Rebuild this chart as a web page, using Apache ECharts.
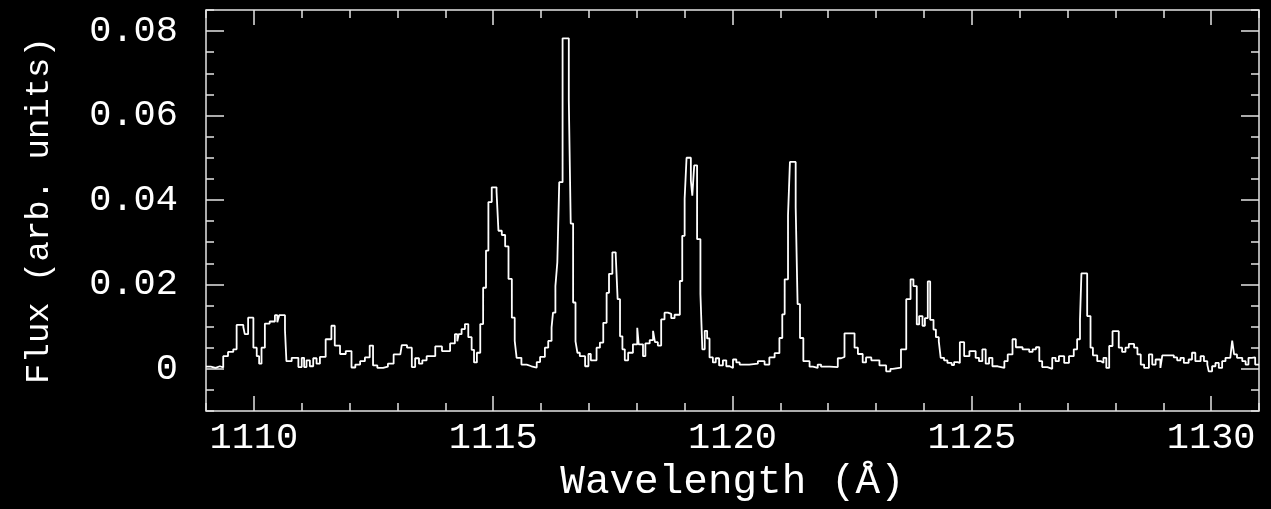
<!DOCTYPE html>
<html>
<head>
<meta charset="utf-8">
<title>Flux spectrum</title>
<script src="https://cdn.jsdelivr.net/npm/echarts@6/dist/echarts.min.js"></script>
<style>
  html, body { margin: 0; padding: 0; background: #000; }
  #chart { width: 1271px; height: 509px; }
</style>
</head>
<body>
<div id="chart"></div>
<script>
// bin left edges (Angstrom) and flux held over each bin
const wave = [
  1109.00, 1109.10, 1109.20, 1109.29, 1109.36, 1109.46, 1109.57, 1109.64, 1109.78, 1109.81,
  1109.88, 1109.99, 1110.06, 1110.11, 1110.16, 1110.23, 1110.33, 1110.44, 1110.49, 1110.53,
  1110.65, 1110.68, 1110.79, 1110.93, 1111.00, 1111.05, 1111.10, 1111.17, 1111.24, 1111.31,
  1111.38, 1111.50, 1111.62, 1111.69, 1111.80, 1111.92, 1112.04, 1112.12, 1112.22, 1112.32,
  1112.42, 1112.49, 1112.58, 1112.70, 1112.80, 1112.92, 1113.06, 1113.09, 1113.20, 1113.30,
  1113.37, 1113.45, 1113.52, 1113.61, 1113.79, 1113.93, 1114.10, 1114.20, 1114.25, 1114.28,
  1114.34, 1114.41, 1114.48, 1114.55, 1114.60, 1114.66, 1114.73, 1114.79, 1114.85, 1114.90,
  1114.97, 1115.07, 1115.11, 1115.18, 1115.25, 1115.32, 1115.39, 1115.45, 1115.49, 1115.59,
  1115.70, 1115.80, 1115.91, 1115.98, 1116.08, 1116.15, 1116.22, 1116.25, 1116.30, 1116.34,
  1116.38, 1116.45, 1116.58, 1116.62, 1116.67, 1116.72, 1116.76, 1116.81, 1116.92, 1116.99,
  1117.04, 1117.16, 1117.23, 1117.30, 1117.37, 1117.42, 1117.49, 1117.56, 1117.60, 1117.65,
  1117.70, 1117.75, 1117.82, 1117.92, 1118.01, 1118.04, 1118.13, 1118.18, 1118.27, 1118.34,
  1118.38, 1118.44, 1118.51, 1118.58, 1118.65, 1118.72, 1118.79, 1118.90, 1118.95, 1119.00,
  1119.04, 1119.13, 1119.16, 1119.20, 1119.26, 1119.33, 1119.37, 1119.42, 1119.47, 1119.52,
  1119.59, 1119.65, 1119.72, 1119.80, 1119.87, 1119.94, 1120.01, 1120.08, 1120.15, 1120.35,
  1120.53, 1120.67, 1120.77, 1120.88, 1120.98, 1121.04, 1121.09, 1121.16, 1121.20, 1121.32,
  1121.36, 1121.41, 1121.48, 1121.61, 1121.68, 1121.78, 1121.85, 1122.03, 1122.20, 1122.27,
  1122.34, 1122.55, 1122.62, 1122.72, 1122.79, 1122.90, 1123.07, 1123.21, 1123.30, 1123.35,
  1123.52, 1123.63, 1123.72, 1123.78, 1123.85, 1123.90, 1123.97, 1124.02, 1124.08, 1124.13,
  1124.20, 1124.25, 1124.31, 1124.35, 1124.42, 1124.49, 1124.58, 1124.63, 1124.70, 1124.75,
  1124.84, 1124.95, 1125.08, 1125.15, 1125.22, 1125.29, 1125.36, 1125.43, 1125.54, 1125.68,
  1125.75, 1125.85, 1125.92, 1126.06, 1126.20, 1126.27, 1126.34, 1126.41, 1126.47, 1126.58,
  1126.68, 1126.75, 1126.82, 1126.93, 1127.03, 1127.13, 1127.20, 1127.26, 1127.29, 1127.41,
  1127.48, 1127.53, 1127.62, 1127.70, 1127.75, 1127.81, 1127.87, 1127.94, 1128.07, 1128.14,
  1128.21, 1128.28, 1128.39, 1128.46, 1128.53, 1128.60, 1128.70, 1128.77, 1128.84, 1128.94,
  1128.98, 1129.22, 1129.29, 1129.36, 1129.43, 1129.53, 1129.60, 1129.67, 1129.78, 1129.85,
  1129.92, 1129.95, 1130.02, 1130.09, 1130.16, 1130.23, 1130.30, 1130.40, 1130.44, 1130.48,
  1130.54, 1130.65, 1130.72, 1130.78, 1130.85, 1130.92, 1131.00
];

const flux = [
  0.0005, 0.0002, 0.0006, 0.0003, 0.0030, 0.0040, 0.0046, 0.0104, 0.0099, 0.0082,
  0.0121, 0.0050, 0.0030, 0.0012, 0.0050, 0.0107, 0.0112, 0.0127, 0.0110, 0.0127,
  0.0092, 0.0018, 0.0026, 0.0004, 0.0026, 0.0004, 0.0020, 0.0006, 0.0025, 0.0012,
  0.0028, 0.0070, 0.0102, 0.0055, 0.0035, 0.0042, 0.0003, 0.0010, 0.0018, 0.0027,
  0.0055, 0.0008, 0.0002, 0.0005, 0.0012, 0.0034, 0.0038, 0.0056, 0.0050, 0.0004,
  0.0025, 0.0012, 0.0020, 0.0030, 0.0053, 0.0042, 0.0060, 0.0082, 0.0065, 0.0082,
  0.0094, 0.0106, 0.0075, 0.0045, 0.0015, 0.0038, 0.0106, 0.0192, 0.0280, 0.0395,
  0.0430, 0.0420, 0.0327, 0.0317, 0.0290, 0.0213, 0.0121, 0.0066, 0.0026, 0.0010,
  0.0006, 0.0003, 0.0016, 0.0028, 0.0050, 0.0066, 0.0098, 0.0133, 0.0196, 0.0252,
  0.0442, 0.0783, 0.0637, 0.0344, 0.0157, 0.0065, 0.0038, 0.0030, 0.0006, 0.0035,
  0.0020, 0.0050, 0.0062, 0.0109, 0.0180, 0.0225, 0.0276, 0.0270, 0.0165, 0.0077,
  0.0046, 0.0020, 0.0038, 0.0058, 0.0097, 0.0058, 0.0030, 0.0060, 0.0068, 0.0090,
  0.0063, 0.0055, 0.0117, 0.0133, 0.0130, 0.0120, 0.0128, 0.0208, 0.0315, 0.0403,
  0.0500, 0.0446, 0.0410, 0.0482, 0.0307, 0.0177, 0.0046, 0.0090, 0.0072, 0.0027,
  0.0015, 0.0025, 0.0008, 0.0020, 0.0006, 0.0002, 0.0022, 0.0015, 0.0010, 0.0012,
  0.0018, 0.0010, 0.0027, 0.0037, 0.0073, 0.0129, 0.0212, 0.0363, 0.0490, 0.0383,
  0.0153, 0.0073, 0.0018, 0.0005, 0.0002, 0.0010, 0.0005, 0.0004, 0.0025, 0.0028,
  0.0084, 0.0050, 0.0035, 0.0015, 0.0027, 0.0020, 0.0008, -0.0006, 0.0000, 0.0003,
  0.0046, 0.0165, 0.0212, 0.0196, 0.0105, 0.0125, 0.0102, 0.0120, 0.0207, 0.0116,
  0.0093, 0.0075, 0.0065, 0.0026, 0.0020, 0.0014, 0.0009, 0.0016, 0.0014, 0.0063,
  0.0030, 0.0042, 0.0026, 0.0018, 0.0046, 0.0012, 0.0026, 0.0006, 0.0002, 0.0018,
  0.0034, 0.0070, 0.0051, 0.0046, 0.0040, 0.0046, 0.0051, 0.0018, 0.0004, 0.0000,
  0.0026, 0.0018, 0.0030, 0.0014, 0.0030, 0.0046, 0.0070, 0.0117, 0.0226, 0.0125,
  0.0050, 0.0032, 0.0018, 0.0014, 0.0026, 0.0002, 0.0054, 0.0089, 0.0050, 0.0040,
  0.0050, 0.0059, 0.0050, 0.0034, 0.0010, 0.0002, 0.0034, 0.0010, 0.0022, 0.0002,
  0.0032, 0.0027, 0.0020, 0.0026, 0.0014, 0.0022, 0.0038, 0.0018, 0.0030, 0.0018,
  0.0010, -0.0006, 0.0006, 0.0014, 0.0002, 0.0018, 0.0026, 0.0030, 0.0067, 0.0034,
  0.0026, 0.0018, 0.0010, 0.0026, 0.0027, 0.0010, 0.0010
];

const xMajor = [1110, 1115, 1120, 1125, 1130];
const yMajor = [0, 0.02, 0.04, 0.06, 0.08];

const FONT = '"Liberation Mono", "DejaVu Sans Mono", monospace';
const INK = '#ffffff';
const FRAME = '#e4e4e4';
const tickStyle = { color: FRAME, width: 1.5 };

// one axis per tick family: minor ticks on every unit, major ticks from customValues
function xAxisAt(position, major) {
  return {
    type: 'value', position, min: 1109, max: 1131, interval: 1,
    axisLine: { show: false, onZero: false },
    splitLine: { show: false },
    axisTick: major
      ? { show: true, inside: true, length: 15, customValues: xMajor, lineStyle: tickStyle }
      : { show: true, inside: true, length: 8, lineStyle: tickStyle },
    axisLabel: { show: false }
  };
}

function yAxisAt(position, major) {
  return {
    type: 'value', position, min: -0.01, max: 0.085, interval: 0.005,
    axisLine: { show: false, onZero: false },
    splitLine: { show: false },
    axisTick: major
      ? { show: true, inside: true, length: 18, customValues: yMajor, lineStyle: tickStyle }
      : { show: true, inside: true, length: 8, lineStyle: tickStyle },
    axisLabel: { show: false }
  };
}

const xMain = xAxisAt('bottom', false);
xMain.axisLabel = {
  show: true, customValues: xMajor, margin: 9,
  color: INK, fontFamily: FONT, fontSize: 37,
  formatter: v => String(v)
};
xMain.name = 'Wavelength (Å)';
xMain.nameLocation = 'middle';
xMain.nameGap = 50;
xMain.nameTextStyle = { color: INK, fontFamily: FONT, fontSize: 41 };

const yMain = yAxisAt('left', false);
yMain.axisLabel = {
  show: true, customValues: yMajor, margin: 28,
  color: INK, fontFamily: FONT, fontSize: 37,
  formatter: v => (v === 0 ? '0' : v.toFixed(2))
};
yMain.name = 'Flux (arb. units)';
yMain.nameLocation = 'middle';
yMain.nameGap = 150;
yMain.nameTextStyle = { color: INK, fontFamily: FONT, fontSize: 34 };

const steps = wave.map((w, i) => [w, flux[Math.min(i, flux.length - 1)]]);

const chart = echarts.init(document.getElementById('chart'), null, { renderer: 'canvas' });
chart.setOption({
  backgroundColor: '#000000',
  animation: false,
  grid: {
    left: 206, right: 12, top: 10, bottom: 98,
    containLabel: false, outerBoundsMode: 'none',
    show: true, borderColor: FRAME, borderWidth: 1.5, backgroundColor: 'transparent'
  },
  xAxis: [xMain, xAxisAt('bottom', true), xAxisAt('top', false), xAxisAt('top', true)],
  yAxis: [yMain, yAxisAt('left', true), yAxisAt('right', false), yAxisAt('right', true)],
  series: [{
    type: 'line',
    xAxisIndex: 0,
    yAxisIndex: 0,
    step: 'end',
    data: steps,
    showSymbol: false,
    clip: true,
    lineStyle: { color: INK, width: 1.8 }
  }]
});
</script>
</body>
</html>
